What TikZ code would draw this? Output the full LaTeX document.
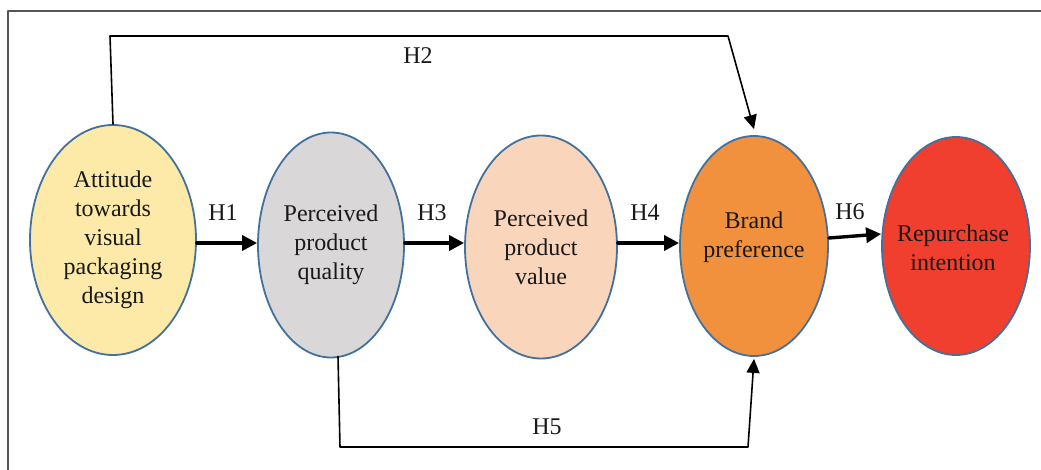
\documentclass[tikz,border=0pt]{standalone}
\usepackage{fontspec}
\setmainfont{Liberation Serif}
\usetikzlibrary{arrows.meta, shapes.geometric, positioning}
\definecolor{packyellow}{HTML}{FDE9A8}
\definecolor{qualgray}{HTML}{D9D7D8}
\definecolor{valuepeach}{HTML}{F9D5BC}
\definecolor{brandorange}{HTML}{F2913D}
\definecolor{repred}{HTML}{F03E2F}
\definecolor{rimblue}{HTML}{41719C}
\definecolor{framegray}{HTML}{555555}

\begin{document}
\begin{tikzpicture}[x=1pt, y=-1pt, line cap=round, line join=round,
    construct/.style={ellipse, draw=rimblue, line width=1.8pt, inner sep=0pt,
      align=center, font=\fontsize{24pt}{29pt}\selectfont, text=black!90},
    cname/.style={align=center, font=\fontsize{24pt}{29pt}\selectfont, text=black!90},
    mainarrow/.style={line width=3.4pt, -{Triangle[length=15pt,width=15pt]}},
    sidearrow/.style={line width=1.6pt, -{Triangle[length=14pt,width=13pt]}},
    hlabel/.style={font=\fontsize{24pt}{28pt}\selectfont, text=black!90}]

      \useasboundingbox (0,0) rectangle (1041,470);

      % frame
      \draw[framegray, line width=1.3pt] (8,470) -- (8,11) -- (1041,11);

      % constructs
      \node[construct, fill=packyellow, minimum width=166pt, minimum height=230pt] (Att) at (113,240)
        {Attitude\\towards\\visual\\packaging\\design};
      \node[construct, fill=qualgray, minimum width=146pt, minimum height=225pt] (Qual) at (331,245)
        {Perceived\\product\\quality};
      \node[construct, fill=valuepeach, minimum width=152pt, minimum height=223pt] (Val) at (541,247)
        {Perceived\\product\\value};
      \node[construct, fill=brandorange, minimum width=148pt, minimum height=220pt] (Brand) at (754,246) {};
      \node[cname] (BrandTxt) at (754,237) {Brand\\preference};
      \node[construct, fill=repred, minimum width=148pt, minimum height=218pt] (Rep) at (956,246) {};
      \node[cname] (RepTxt) at (953,248) {Repurchase\\intention};

      % direct paths
      \draw[mainarrow] ([yshift=-3pt]Att.east) -- ([yshift=-3pt]Att.east -| Qual.west);
      \draw[mainarrow] ([yshift=2pt]Qual.east) -- ([yshift=2pt]Qual.east -| Val.west);
      \draw[mainarrow] ([yshift=4pt]Val.east) -- ([yshift=4pt]Val.east -| Brand.west);
      \draw[mainarrow] ([yshift=8pt]Brand.east) -- ([yshift=12pt]Rep.west);

      % H2 over the top
      \coordinate (H2a) at (110,36);
      \coordinate (H2b) at (728,36);
      \draw[sidearrow] (Att.north) -- (H2a) -- (H2b) -- ([yshift=6pt]Brand.north);

      % H5 underneath
      \coordinate (H5a) at (340,447);
      \coordinate (H5b) at (748,447);
      \draw[sidearrow] ([xshift=7pt, yshift=2pt]Qual.south) -- (H5a) -- (H5b) -- ([yshift=-2pt]Brand.south);

      % labels
      \node[hlabel] (L1) at (223,213) {H1};
      \node[hlabel] (L2) at (418,56) {H2};
      \node[hlabel] (L3) at (432,213) {H3};
      \node[hlabel] (L4) at (645,213) {H4};
      \node[hlabel] (L5) at (547,427) {H5};
      \node[hlabel] (L6) at (850,212) {H6};
    \end{tikzpicture}
\end{document}
